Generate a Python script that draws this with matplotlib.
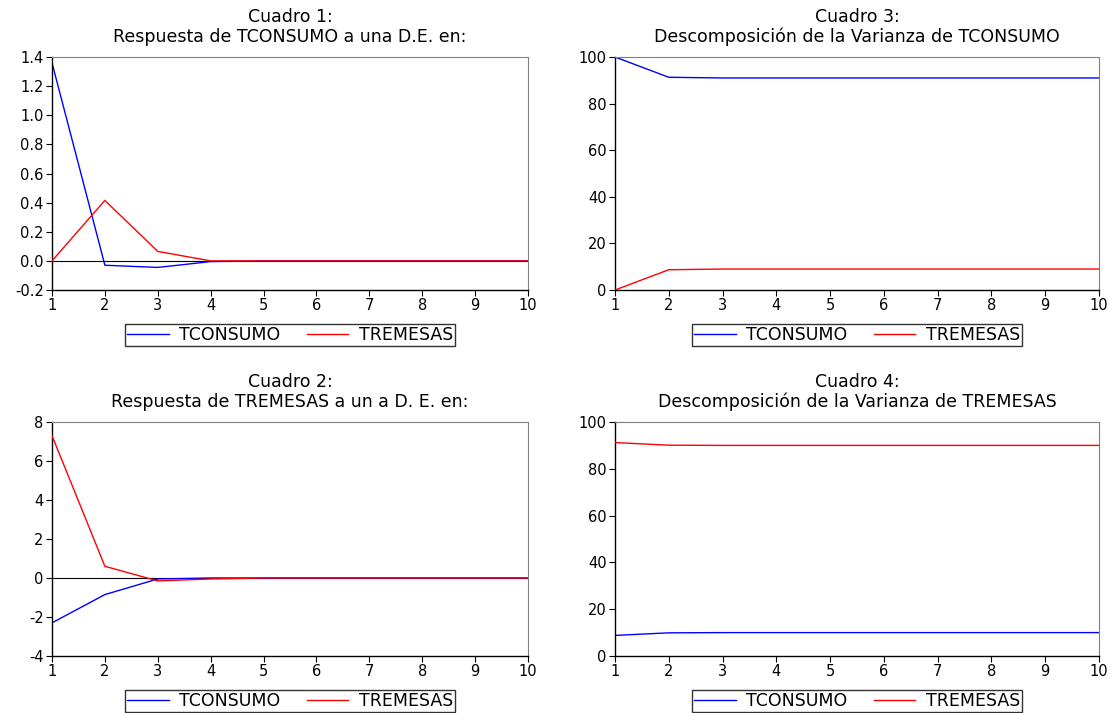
import numpy as np
import matplotlib.pyplot as plt

plt.rcParams["font.family"] = ["DejaVu Sans"]

periods = list(range(1, 11))

# Cuadro 1: respuesta de TCONSUMO
c1_tconsumo = [1.36, -0.03, -0.045, -0.005, 0.0, 0.0, 0.0, 0.0, 0.0, 0.0]
c1_tremesas = [0.0, 0.415, 0.065, 0.0, 0.0, 0.0, 0.0, 0.0, 0.0, 0.0]

# Cuadro 2: respuesta de TREMESAS
c2_tconsumo = [-2.3, -0.85, -0.05, 0.0, 0.0, 0.0, 0.0, 0.0, 0.0, 0.0]
c2_tremesas = [7.3, 0.6, -0.15, -0.05, 0.0, 0.0, 0.0, 0.0, 0.0, 0.0]

# Cuadro 3: descomposicion de la varianza de TCONSUMO
c3_tconsumo = [100.0, 91.3, 91.0, 91.0, 91.0, 91.0, 91.0, 91.0, 91.0, 91.0]
c3_tremesas = [0.0, 8.7, 9.0, 9.0, 9.0, 9.0, 9.0, 9.0, 9.0, 9.0]

# Cuadro 4: descomposicion de la varianza de TREMESAS
c4_tconsumo = [8.8, 9.9, 10.0, 10.0, 10.0, 10.0, 10.0, 10.0, 10.0, 10.0]
c4_tremesas = [91.2, 90.1, 90.0, 90.0, 90.0, 90.0, 90.0, 90.0, 90.0, 90.0]

panels = [
    ("Cuadro 1:\nRespuesta de TCONSUMO a una D.E. en:", c1_tconsumo, c1_tremesas,
     (-0.2, 1.4), np.arange(-0.2, 1.41, 0.2), "{:.1f}", True),
    ("Cuadro 3:\nDescomposición de la Varianza de TCONSUMO", c3_tconsumo, c3_tremesas,
     (0, 100), np.arange(0, 101, 20), "{:.0f}", False),
    ("Cuadro 2:\nRespuesta de TREMESAS a un a D. E. en:", c2_tconsumo, c2_tremesas,
     (-4, 8), np.arange(-4, 8.1, 2), "{:.0f}", True),
    ("Cuadro 4:\nDescomposición de la Varianza de TREMESAS", c4_tconsumo, c4_tremesas,
     (0, 100), np.arange(0, 101, 20), "{:.0f}", False),
]

W, H = 1115, 713
fig = plt.figure(figsize=(W / 100, H / 100), dpi=100)

# axes boxes in pixels: left, top, right, bottom
boxes = [(52, 57, 528, 290), (615, 57, 1099, 290),
         (52, 422, 528, 656), (615, 422, 1099, 656)]

for (title, ycons, yrem, ylim, yticks, fmt, zero), (l, t, r, b) in zip(panels, boxes):
    ax = fig.add_axes([l / W, 1 - b / H, (r - l) / W, (b - t) / H])
    if zero:
        ax.axhline(0, color="black", lw=0.8, zorder=1)
    ax.plot(periods, ycons, color="#0000ff", lw=1.0, label="TCONSUMO", zorder=2)
    ax.plot(periods, yrem, color="#ff0000", lw=1.0, label="TREMESAS", zorder=3)
    ax.set_xlim(1, 10)
    ax.set_ylim(*ylim)
    ax.set_xticks(periods)
    ax.set_yticks(yticks)
    ax.set_yticklabels([fmt.format(v) for v in yticks])
    ax.tick_params(direction="out", length=4.5, width=0.8, labelsize=10.5, pad=1.5)
    for side in ("top", "right"):
        ax.spines[side].set_color("#808080")
    for side in ("left", "bottom"):
        ax.spines[side].set_color("black")
        ax.spines[side].set_linewidth(1.0)
    ax.set_title(title, fontsize=12.5, linespacing=1.1, pad=11)
    leg = ax.legend(loc="upper center", bbox_to_anchor=(0.5, -0.145), ncol=2,
                    frameon=True, fancybox=False, fontsize=12.5, handlelength=2.4,
                    columnspacing=1.5, borderpad=0.12, handletextpad=0.6,
                    borderaxespad=0)
    leg.get_frame().set_edgecolor("black")
    leg.get_frame().set_linewidth(1.0)

fig.savefig("out.png", dpi=100)
